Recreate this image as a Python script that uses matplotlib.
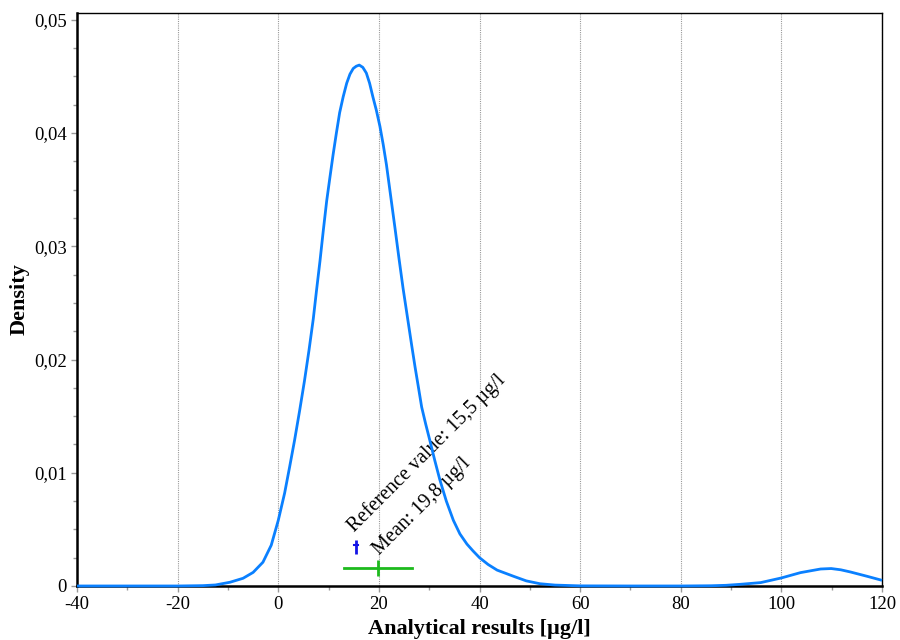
import matplotlib
matplotlib.use("Agg")
import matplotlib.pyplot as plt
from matplotlib.ticker import MultipleLocator, FuncFormatter

# Density curve
x_vals = [-40, -30, -20, -15, -12.5, -9.6, -7.0, -5.0, -3.05, -1.4, 0, 1.26, 2.25,
          3.25, 4.25, 5.2, 6.1, 6.96, 7.6, 8.29, 8.95, 9.62, 10.3, 10.9, 11.55,
          12.2, 12.9, 13.6, 14.25, 14.9, 15.5, 16.1, 16.8, 17.5, 18.15, 18.8, 19.5,
          20.2, 20.85, 21.5, 22.35, 23.2, 24.0, 24.8, 25.65, 26.5, 27.2, 27.8, 28.5,
          29.3, 30.1, 31.1, 32.1, 33.4, 34.8, 36.1, 37.5, 38.7, 40, 41.7, 43.5,
          46.8, 49.3, 52, 55, 60, 70, 80, 86, 89, 91.9, 95.9, 100, 103.8, 107.8,
          109.9, 111.8, 113.7, 117, 120]
density = [0, 0, 0, 0.00003, 0.00009, 0.00033, 0.00068, 0.0012, 0.0021, 0.0036,
           0.0058, 0.0082, 0.0105, 0.0129, 0.0155, 0.0181, 0.0208, 0.0236, 0.0261,
           0.0287, 0.0314, 0.0340, 0.0362, 0.0381, 0.0400, 0.0418, 0.0432, 0.0444,
           0.0452, 0.0457, 0.0459, 0.0460, 0.0458, 0.0453, 0.0444, 0.0432, 0.0420,
           0.0406, 0.0390, 0.0372, 0.0344, 0.0316, 0.0289, 0.0263, 0.0238, 0.0213,
           0.0193, 0.0177, 0.0158, 0.0143, 0.0129, 0.0111, 0.0094, 0.0075, 0.0058,
           0.0046, 0.0037, 0.0031, 0.0025, 0.0019, 0.0014, 0.00085, 0.00045,
           0.0002, 0.00008, 0.00001, 0, 0, 0.00002, 0.00006, 0.00015, 0.0003,
           0.00071, 0.00118, 0.0015, 0.00154, 0.00143, 0.00124, 0.00086, 0.0005]

ref_value = 15.5
ref_unc = 0.4
ref_y = 0.0034
mean_value = 19.8
mean_lo, mean_hi = 13.1, 26.5
mean_y = 0.0016

x_ticks = [-40, -20, 0, 20, 40, 60, 80, 100, 120]
y_ticks = [0, 0.01, 0.02, 0.03, 0.04, 0.05]

serif = ["Liberation Serif", "DejaVu Serif"]
plt.rcParams['font.family'] = serif

fig = plt.figure(figsize=(9, 6.4), dpi=100)
ax = fig.add_axes([0.0856, 0.0844, 0.8944, 0.8953])

ax.plot(x_vals, density, color="#0A80FF", lw=2.0, zorder=5, clip_on=False,
        solid_joinstyle="round", solid_capstyle="butt")

# mean with range
ax.plot([mean_lo, mean_hi], [mean_y, mean_y], color="#1DBA1D", lw=2.0, zorder=6)
ax.plot([mean_value], [mean_y], marker="|", ms=11, mew=2.0, color="#1DBA1D", zorder=6)
# reference value
ax.plot([ref_value - ref_unc, ref_value + ref_unc], [ref_y + 0.0002, ref_y + 0.0002],
        color="#1414E6", lw=1.5, zorder=6)
ax.plot([ref_value], [ref_y], marker="|", ms=10, mew=2.0, color="#1414E6", zorder=6)

ax.text(15.2, 0.0047, "Reference value: 15,5 µg/l", rotation=45, rotation_mode="anchor",
        ha="left", va="baseline", fontsize=14.5, family=serif)
ax.text(20.2, 0.0027, "Mean: 19,8 µg/l", rotation=45, rotation_mode="anchor",
        ha="left", va="baseline", fontsize=14.5, family=serif)

ax.set_xlim(-40, 120)
ax.set_ylim(0, 0.0506)
ax.set_xticks(x_ticks)
ax.set_yticks(y_ticks)
ax.xaxis.set_minor_locator(MultipleLocator(10))
ax.yaxis.set_minor_locator(MultipleLocator(0.0025))
ax.xaxis.set_major_formatter(FuncFormatter(lambda v, p: f"{v:g}"))
ax.yaxis.set_major_formatter(FuncFormatter(lambda v, p: ("0" if v == 0 else f"{v:.2f}".replace(".", ","))))

ax.tick_params(axis="both", which="both", direction="out", color="#999999", labelsize=13.5)
ax.tick_params(which="major", length=4, width=1)
ax.tick_params(which="minor", length=3, width=1)

ax.grid(axis="x", which="major", color="#999999", linestyle=(0, (1, 1)), lw=0.8)
ax.set_axisbelow(True)

for s in ["left", "bottom"]:
    ax.spines[s].set_linewidth(1.8)
for s in ["top", "right"]:
    ax.spines[s].set_linewidth(1.0)

ax.set_xlabel("Analytical results [µg/l]", fontsize=16, fontweight="bold", labelpad=4)
ax.set_ylabel("Density", fontsize=16, fontweight="bold", labelpad=3)

fig.savefig("out.png", dpi=100)
